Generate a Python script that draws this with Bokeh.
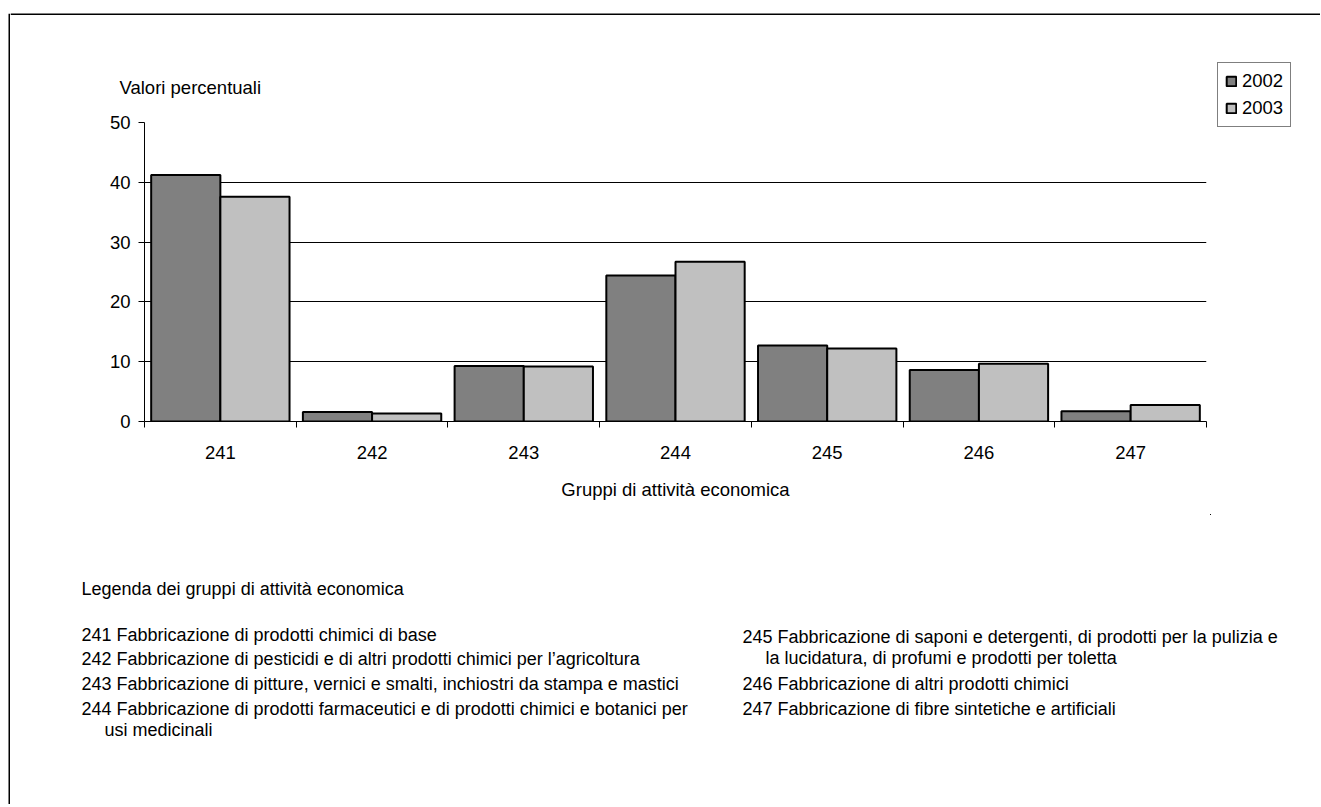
from bokeh.plotting import figure
from bokeh.layouts import column, row
from bokeh.models import (ColumnDataSource, Range1d, FixedTicker, Legend, LegendItem, Title, Span)
from bokeh.core.properties import value
from bokeh.transform import dodge
from bokeh.embed import file_html
from bokeh.resources import INLINE

# ---------------- data ----------------
categories = ["241", "242", "243", "244", "245", "246", "247"]
share_2002 = [41.2, 1.6, 9.3, 24.4, 12.7, 8.6, 1.7]
share_2003 = [37.6, 1.35, 9.2, 26.7, 12.2, 9.65, 2.75]
years = ["2002", "2003"]
year_colors = ["#808080", "#c0c0c0"]
y_ticks = [0, 10, 20, 30, 40, 50]

y_title = "Valori percentuali"
x_title = "Gruppi di attività economica"
legend_heading = "Legenda dei gruppi di attività economica"
left_lines = [
    "241 Fabbricazione di prodotti chimici di base",
    "242 Fabbricazione di pesticidi e di altri prodotti chimici per l’agricoltura",
    "243 Fabbricazione di pitture, vernici e smalti, inchiostri da stampa e mastici",
    "244 Fabbricazione di prodotti farmaceutici e di prodotti chimici e botanici per",
    "usi medicinali",
]
right_lines = [
    "245 Fabbricazione di saponi e detergenti, di prodotti per la pulizia e",
    "la lucidatura, di profumi e prodotti per toletta",
    "246  Fabbricazione di altri prodotti chimici",
    "247 Fabbricazione di fibre sintetiche e artificiali",
]

# ---------------- layout ----------------
FONT = "Liberation Sans"
PAGE_W, PAGE_H = 1320, 804
OX, OY = 10, 15            # page position of the content origin (inside the outer frame lines)
W = PAGE_W - OX
H1 = 500                   # chart figure height
H2 = PAGE_H - OY - H1      # text figure height
FRAME_L, FRAME_T, FRAME_R, FRAME_B = 144, 122, 1206, 421   # page coords of plot area
CHART_W = 1210 - OX        # chart figure width, legend figure takes the rest
LEG_W = W - CHART_W


def blank(fig):
    fig.axis.visible = False
    fig.grid.visible = False
    fig.outline_line_color = None
    fig.background_fill_color = "white"
    fig.border_fill_color = "white"
    return fig


# outer frame lines (left and top)
left_strip = blank(figure(width=OX, height=PAGE_H, output_backend="svg", toolbar_location=None,
                          x_range=Range1d(0, OX), y_range=Range1d(PAGE_H, 13),
                          min_border=0, min_border_top=13, frame_align=False))
left_strip.add_layout(Span(location=9, dimension="height", line_color="black", line_width=2))
top_strip = blank(figure(width=W, height=OY, output_backend="svg", toolbar_location=None,
                         x_range=Range1d(OX, PAGE_W), y_range=Range1d(OY, 0), min_border=0,
                         frame_align=False))
top_strip.add_layout(Span(location=14, dimension="width", line_color="black", line_width=2))

# ---------------- chart ----------------
centers = [i + 0.5 for i in range(len(categories))]
source = ColumnDataSource(dict(x=centers, cat=categories, v2002=share_2002, v2003=share_2003))

p = figure(width=CHART_W, height=H1, output_backend="svg", toolbar_location=None,
           x_range=Range1d(0, len(categories)), y_range=Range1d(0, 50),
           min_border_left=FRAME_L - OX, min_border_top=FRAME_T - OY,
           min_border_right=CHART_W - (FRAME_R - OX),
           min_border_bottom=H1 - (FRAME_B - OY), frame_align=False)
p.outline_line_color = None
p.background_fill_color = "white"
p.border_fill_color = "white"

r1 = p.vbar(x=dodge("x", -0.228, range=p.x_range), top="v2002", width=0.456, source=source,
            fill_color=year_colors[0], line_color="black", line_width=2)
r2 = p.vbar(x=dodge("x", 0.228, range=p.x_range), top="v2003", width=0.456, source=source,
            fill_color=year_colors[1], line_color="black", line_width=2)

# x axis
xa = p.xaxis[0]
xa.ticker = FixedTicker(ticks=centers, minor_ticks=list(range(len(categories) + 1)))
xa.major_label_overrides = {c: lab for c, lab in zip(centers, categories)}
xa.major_tick_line_color = None
xa.major_tick_out = 0
xa.major_tick_in = 0
xa.minor_tick_line_color = "black"
xa.minor_tick_out = 6
xa.minor_tick_in = 0
xa.axis_line_color = "black"
xa.major_label_text_font = FONT
xa.major_label_text_font_size = "18.5px"
xa.major_label_text_color = "black"
xa.major_label_standoff = 18
xa.axis_label = x_title
xa.axis_label_text_font = FONT
xa.axis_label_text_font_size = "18.5px"
xa.axis_label_text_font_style = "normal"
xa.axis_label_text_color = "black"
xa.axis_label_standoff = 17

# y axis
ya = p.yaxis[0]
ya.ticker = FixedTicker(ticks=y_ticks, minor_ticks=[])
ya.major_tick_out = 6
ya.major_tick_in = 0
ya.major_tick_line_color = "black"
ya.minor_tick_line_color = None
ya.axis_line_color = "black"
ya.major_label_text_font = FONT
ya.major_label_text_font_size = "18.5px"
ya.major_label_text_color = "black"
ya.major_label_standoff = 8

p.xgrid.grid_line_color = None
p.ygrid.ticker = FixedTicker(ticks=y_ticks, minor_ticks=[])
p.ygrid.grid_line_color = "black"
p.ygrid.grid_line_width = 1

# y title above the plot area
p.add_layout(Title(text=y_title, align="left", offset=119 - FRAME_L, standoff=50,
                   text_font=FONT, text_font_size="18.5px", text_font_style="normal",
                   text_color="black"), "above")

# ---------------- series legend (own panel to the right of the chart) ----------------
# this panel's ranges lie wholly outside the data, so only the legend keys are visible here
lf = blank(figure(width=LEG_W, height=H1, output_backend="svg", toolbar_location=None,
                  x_range=Range1d(100, 210), y_range=Range1d(100, 600),
                  min_border=0, frame_align=False))
key_renderers = [lf.vbar(x="x", top=col, width=0.456, source=source,
                         fill_color=c, line_color="black", line_width=2)
                 for col, c in zip(["v2002", "v2003"], year_colors)]
legend = Legend(items=[LegendItem(label=yr, renderers=[kr]) for yr, kr in zip(years, key_renderers)],
                location=(1217 - (OX + CHART_W), (OY + H1) - 127))
legend.border_line_color = "black"
legend.border_line_width = 1
legend.background_fill_color = "white"
legend.background_fill_alpha = 1
legend.label_text_font = FONT
legend.label_text_font_size = "18.5px"
legend.label_text_color = "black"
legend.glyph_width = 12
legend.glyph_height = 12
legend.label_standoff = 5
legend.label_height = 20
legend.spacing = 5
legend.padding = 7
legend.margin = 0
lf.add_layout(legend)

# ---------------- text block ----------------
t = blank(figure(width=W, height=H2, output_backend="svg", toolbar_location=None,
                 x_range=Range1d(OX, OX + W), y_range=Range1d(OY + H1 + H2, OY + H1),
                 min_border=0, frame_align=False))

t.text(x=[81], y=[588], text=[legend_heading], text_font=value(FONT), text_font_size="18px",
       text_color="black", text_align="left", text_baseline="middle")
left_pos_x = [81, 81, 81, 81, 104]
left_pos_y = [634, 658, 683, 708, 729]
right_pos_x = [742, 765, 742, 742]
right_pos_y = [636, 657, 683, 708]
t.text(x=left_pos_x + right_pos_x, y=left_pos_y + right_pos_y, text=left_lines + right_lines,
       text_font=value(FONT), text_font_size="18px", text_color="black",
       text_align="left", text_baseline="middle")

layout = row(left_strip, column(top_strip, row(p, lf, spacing=0), t, spacing=0), spacing=0)

open("out.html", "w").write(file_html(layout, INLINE))
